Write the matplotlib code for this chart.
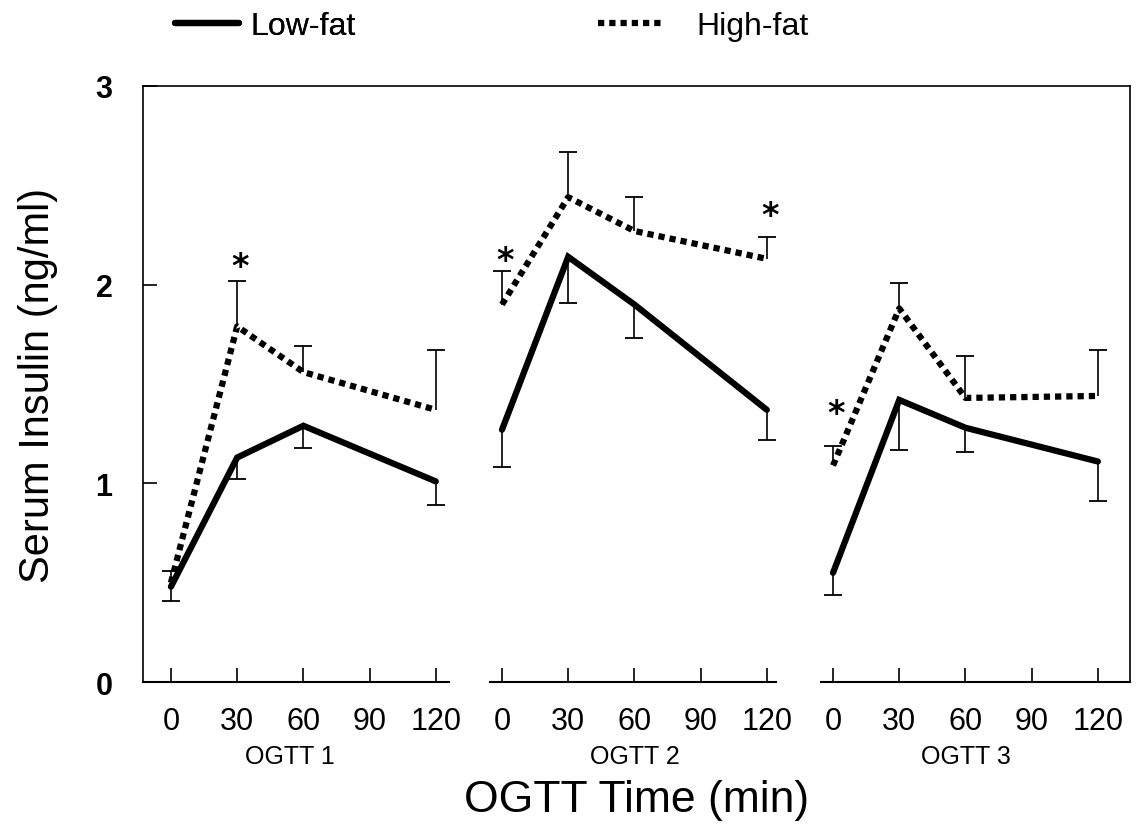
import matplotlib.pyplot as plt
from matplotlib.lines import Line2D

plt.rcParams['font.family'] = ['Liberation Sans Narrow', 'Liberation Sans', 'DejaVu Sans']

# OGTT sampling times (min) and the tick labels under each group
times = [0, 30, 60, 120]
tick_labels = ['0', '30', '60', '90', '120']
groups = ['OGTT 1', 'OGTT 2', 'OGTT 3']

# serum insulin (ng/ml), one row per OGTT
low_fat = [[0.48, 1.13, 1.29, 1.01],
           [1.27, 2.14, 1.90, 1.37],
           [0.55, 1.42, 1.28, 1.11]]
low_fat_err = [[0.07, 0.11, 0.11, 0.12],
               [0.19, 0.23, 0.17, 0.15],
               [0.11, 0.25, 0.12, 0.20]]
high_fat = [[0.50, 1.79, 1.56, 1.37],
            [1.90, 2.44, 2.27, 2.13],
            [1.09, 1.88, 1.43, 1.44]]
high_fat_err = [[0.06, 0.23, 0.13, 0.30],
                [0.17, 0.23, 0.17, 0.11],
                [0.10, 0.13, 0.21, 0.23]]

# significant differences: (group, time, y of the star)
stars = [(0, 30, 2.09), (1, 0, 2.12), (1, 120, 2.35), (2, 0, 1.35)]

fig = plt.figure(figsize=(11.36, 8.28), dpi=100)
ax = fig.add_axes([0.126, 0.175, 0.869, 0.720])

dotted = (0, (1, 0.8))
for g in range(3):
    x = [t / 30 + 5 * g for t in times]
    # one-sided error bars: low-fat downwards, high-fat upwards
    lo_end = [v - e for v, e in zip(low_fat[g], low_fat_err[g])]
    hi_end = [v + e for v, e in zip(high_fat[g], high_fat_err[g])]
    ax.vlines(x, lo_end, low_fat[g], color='black', linewidth=1.2)
    ax.vlines(x, high_fat[g], hi_end, color='black', linewidth=1.2)
    ax.plot(x, lo_end, linestyle='none', marker='_', markersize=13,
            markeredgewidth=1.3, color='black')
    ax.plot(x, hi_end, linestyle='none', marker='_', markersize=13,
            markeredgewidth=1.3, color='black')
    ax.plot(x, low_fat[g], color='black', linewidth=4.5,
            solid_capstyle='round', solid_joinstyle='miter')
    ax.plot(x, high_fat[g], color='black', linewidth=4.5, linestyle=dotted)

for g, t, y in stars:
    ax.text(t / 30 + 5 * g + 0.05, y, '*', ha='center', va='center',
            fontsize=24, fontweight='bold', family='DejaVu Sans')

ax.set_xlim(-0.42, 14.49)
ax.set_ylim(0, 3)
ax.set_yticks([0, 1, 2, 3])
ax.set_yticklabels(['0', '1', '2', '3'], fontsize=22, fontweight='bold',
                   family='Liberation Sans')
ax.set_xticks([i + 5 * g for g in range(3) for i in range(5)])
ax.set_xticklabels(tick_labels * 3, fontsize=22)
ax.tick_params(axis='both', direction='in', length=10, width=1.2)
ax.tick_params(axis='x', pad=17)
ax.tick_params(axis='y', pad=22)

ax.spines['bottom'].set_visible(False)
for s in ['left', 'top', 'right']:
    ax.spines[s].set_linewidth(1.2)
for x0, x1 in [(-0.42, 4.2), (4.82, 9.14), (9.82, 14.49)]:
    ax.plot([x0, x1], [0, 0], color='black', linewidth=1.5, clip_on=False)

for g, name in enumerate(groups):
    ax.text([1.8, 7.0, 12.0][g], -0.37, name, ha='center', va='center',
            fontsize=18)

ax.set_ylabel('Serum Insulin (ng/ml)', fontsize=30, family='Liberation Sans',
              labelpad=27)
ax.text(0.5, -0.197, 'OGTT Time (min)', transform=ax.transAxes,
        ha='center', va='center', fontsize=32, family='Liberation Sans')

handles = [Line2D([], [], color='black', linewidth=4.5, solid_capstyle='round'),
           Line2D([], [], color='black', linewidth=4.5, linestyle=dotted)]
leg1 = fig.legend(handles[:1], ['Low-fat'], loc='center left',
                  bbox_to_anchor=(0.154, 0.967), frameon=False,
                  borderpad=0, borderaxespad=0, handlelength=2.0,
                  handletextpad=0.35,
                  prop={'family': 'Liberation Sans', 'size': 23})
fig.legend(handles[1:], ['High-fat'], loc='center left',
           bbox_to_anchor=(0.526, 0.967), frameon=False,
           borderpad=0, borderaxespad=0, handlelength=2.1,
           handletextpad=1.0,
           prop={'family': 'Liberation Sans', 'size': 23})
fig.add_artist(leg1)

fig.savefig('out.png', dpi=100)
